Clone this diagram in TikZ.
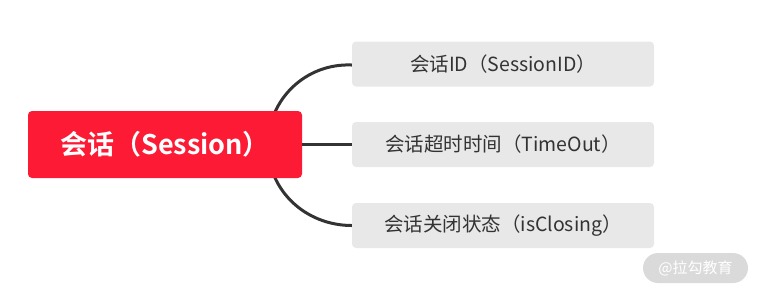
\documentclass[tikz,border=0pt]{standalone}
\usepackage{fontspec}
\setmainfont{Noto Sans CJK SC}
\newfontfamily\cjk{Noto Sans CJK SC}
\newfontfamily\cjkbold{Noto Sans CJK SC Bold}
\definecolor{rootred}{HTML}{FC1A35}
\definecolor{leafgray}{HTML}{E8E8E8}
\definecolor{linegray}{HTML}{333333}
\definecolor{wmgray}{HTML}{DADADA}
\begin{document}
\begin{tikzpicture}[x=1pt,y=-1pt,
  rootbox/.style={fill=rootred, rounded corners=4pt, minimum width=274pt, minimum height=67pt, inner sep=0pt, text=white, font=\cjkbold\fontsize{27}{32}\selectfont},
  leafbox/.style={fill=leafgray, rounded corners=4pt, minimum width=302pt, minimum height=45pt, inner sep=0pt, text=linegray, font=\cjk\fontsize{19.5}{23}\selectfont},
  conn/.style={draw=linegray, line width=3pt},
  wmark/.style={fill=wmgray, rounded corners=15pt, minimum width=105pt, minimum height=30pt, inner sep=0pt, text=white, font=\cjk\fontsize{15}{18}\selectfont}]
\useasboundingbox (0,0) rectangle (759,293);
\node[leafbox] (a) at (503,64) {会话ID（SessionID）};
\node[leafbox] (b) at (503,144.5) {会话超时时间（TimeOut）};
\node[leafbox] (c) at (503,225.5) {会话关闭状态（isClosing）};
\coordinate (j) at (268,145);
\draw[conn] (j) .. controls (268,99) and (306,63) .. ([yshift=-1pt]a.west);
\draw[conn] (j) .. controls (268,191) and (306,225.5) .. (c.west);
\node[rootbox] (r) at (165,144.5) {会话（Session）};
\draw[conn] (r.east) -- (b.west);
\node[wmark] (w) at (695.5,268) {@拉勾教育};
\end{tikzpicture}
\end{document}
